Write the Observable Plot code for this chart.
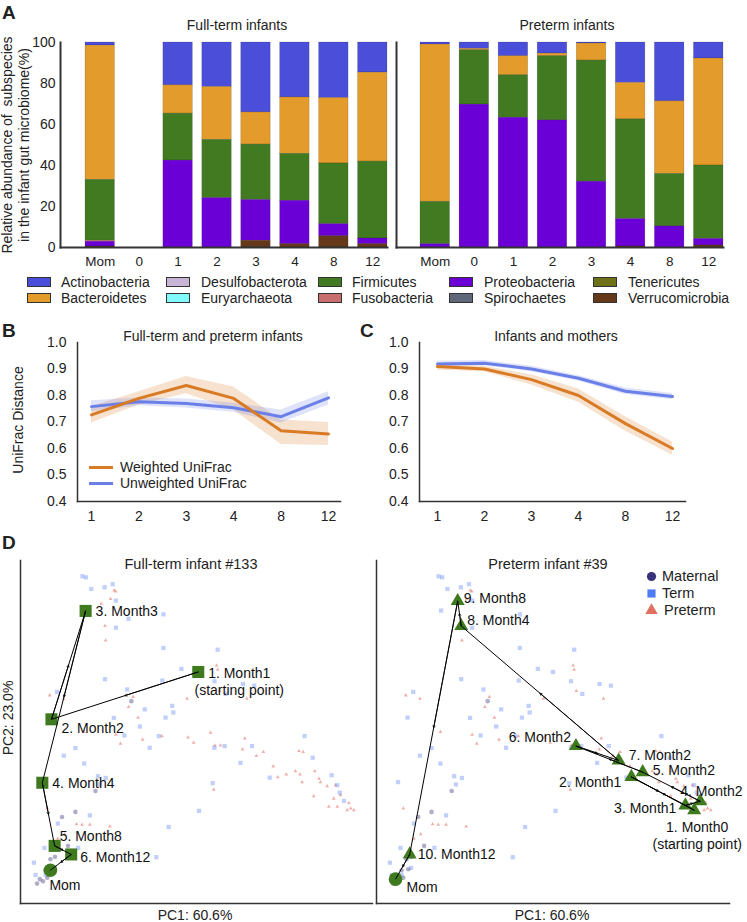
<!DOCTYPE html>
<html><head><meta charset="utf-8">
<script src="https://cdn.jsdelivr.net/npm/d3@7"></script>
<script src="https://cdn.jsdelivr.net/npm/@observablehq/plot@0.6"></script>
<style>
body{margin:0;background:#fff;}
#fig{position:relative;width:747px;height:922px;font-family:"Liberation Sans",Arial,Helvetica,sans-serif;color:#222;overflow:hidden;background:#fff}
.abs{position:absolute;white-space:pre;line-height:1.15}
#fig svg{position:absolute;overflow:visible}
</style></head><body><div id="fig"></div>
<script>
// ---------- DATA ----------
// Panel A
const timepoints = ["Mom","0","1","2","3","4","8","12"];
const phyla = ["Actinobacteria","Bacteroidetes","Desulfobacterota","Euryarchaeota","Firmicutes","Fusobacteria","Proteobacteria","Spirochaetes","Tenericutes","Verrucomicrobia"];
const phylumColors = ["#4a4ed8","#e39b2b","#c8b4d4","#80fafa","#427a22","#c86e6e","#6a00d6","#5f6878","#6e7118","#643818"];
const stackOrder = ["Verrucomicrobia","Tenericutes","Spirochaetes","Proteobacteria","Fusobacteria","Euryarchaeota","Desulfobacterota","Firmicutes","Bacteroidetes","Actinobacteria"];
// full-term infants (% per timepoint)
const ftActinobacteria  = [1.5, 0, 20.9, 21.7, 34.1, 26.8, 27.1, 14.7];
const ftBacteroidetes   = [65.5, 0, 13.8, 25.8, 15.7, 27.5, 31.9, 43.4];
const ftFirmicutes      = [29.7, 0, 22.9, 28.4, 27.0, 22.9, 29.6, 37.5];
const ftFusobacteria    = [0.5, 0, 0, 0, 0, 0, 0, 0];
const ftProteobacteria  = [2.3, 0, 42.4, 24.1, 19.9, 21.2, 5.9, 2.8];
const ftVerrucomicrobia = [0.5, 0, 0, 0, 3.3, 1.6, 5.5, 1.6];
// preterm infants
const ptActinobacteria  = [1.0, 3.1, 6.7, 5.4, 0.5, 19.7, 28.7, 7.8];
const ptBacteroidetes   = [76.7, 0.7, 9.3, 1.3, 8.3, 17.8, 35.4, 52.2];
const ptFirmicutes      = [20.7, 26.5, 20.7, 31.3, 59.1, 48.6, 25.6, 35.8];
const ptFusobacteria    = [0, 0, 0, 0, 0, 0, 0, 0];
const ptProteobacteria  = [1.6, 69.7, 63.3, 62.0, 32.1, 13.4, 10.3, 3.2];
const ptVerrucomicrobia = [0, 0, 0, 0, 0, 0.5, 0, 1.0];

// Panels B & C
const months = ["1","2","3","4","8","12"];
const yTicksBC = [0.4,0.5,0.6,0.7,0.8,0.9,1.0];
const bWeighted   = [0.727,0.789,0.838,0.789,0.667,0.655];
const bWeightedLo = [0.696,0.764,0.807,0.745,0.615,0.611];
const bWeightedHi = [0.758,0.814,0.872,0.832,0.708,0.698];
const bUnweighted   = [0.758,0.776,0.770,0.754,0.720,0.791];
const bUnweightedLo = [0.739,0.761,0.753,0.737,0.696,0.764];
const bUnweightedHi = [0.780,0.791,0.787,0.771,0.745,0.814];
const cWeighted   = [0.909,0.900,0.860,0.800,0.694,0.600];
const cWeightedLo = [0.895,0.890,0.840,0.775,0.665,0.575];
const cWeightedHi = [0.920,0.910,0.878,0.825,0.720,0.625];
const cUnweighted   = [0.919,0.922,0.900,0.865,0.816,0.796];
const cUnweightedLo = [0.909,0.912,0.890,0.855,0.804,0.784];
const cUnweightedHi = [0.929,0.932,0.910,0.875,0.828,0.808];

// Panel D (PC1/PC2 scores, relative units)
const termPC1 = [17.6,18.6,20.1,23.9,26.2,27.1,40.6,30.7,27.1,40.6,56.0,45.7,24.0,40.3,30.3,58.3,43.1,43.4,41.2,26.5,33.9,29.5,39.3,36.7,15.6,12.3,18.1,55.1,58.0,65.8,80.7,83.0,62.5,70.8,54.6,88.4,90.0,90.7,91.9,22.0,50.7,42.1,19.7,38.6,16.4,6.8,3.8,4.3,7.1,9.8,10.4,8.8,6.1,10.6,18.3,24.2,22.5,63.2,66.4,55.1,50.0,35.3];
const termPC2 = [95.4,95.1,91.7,92.2,93.1,88.3,84.3,83.0,80.4,74.5,74.0,68.4,65.4,65.0,62.4,61.1,57.6,55.7,54.2,54.1,51.6,49.0,48.8,45.4,45.3,43.1,40.8,45.4,45.9,45.9,48.8,42.5,41.0,36.7,35.1,37.4,34.5,32.3,29.9,37.1,27.0,22.3,25.7,13.5,16.2,16.2,11.9,8.3,8.4,10.4,61.7,54.2,35.4,23.3,85.4,36.6,34.7,64.0,63.5,64.8,67.5,56.6];
const pretermPC1 = [27.0,25.6,22.9,24.0,24.2,55.7,47.3,32.0,30.7,33.4,8.3,12.3,27.1,40.2,34.7,47.6,54.0,49.2,55.2,56.8,63.1,63.7,67.0,69.0,71.8,73.1,75.5,78.1,79.4,80.0,79.1,80.3,83.6,85.2,87.1,84.8,89.5,90.9,89.0,90.0,93.3,93.8,94.7,92.8,87.6,83.3,54.9,28.4,17.5,19.7,15.9,7.6,10.6,56.0,56.6,64.3,18.1,12.5,25.4,26.6];
const pretermPC2 = [91.0,88.8,87.4,80.9,76.7,69.4,59.7,60.2,57.3,54.2,60.7,59.7,49.2,48.8,47.8,48.4,49.8,46.9,46.1,46.1,44.9,48.1,43.0,44.2,40.0,36.8,37.6,38.6,37.6,35.4,44.5,44.2,38.6,35.4,34.2,36.4,34.5,31.6,30.6,28.2,29.3,27.7,27.2,27.2,28.2,31.3,33.2,46.6,23.0,23.0,23.1,27.7,18.9,68.2,62.0,59.7,50.0,20.2,22.5,91.3];
const maternalPC1 = [31.5,21.3,15.6,11.8,13.5,9.8,8.5,7.1,5.5,4.7,6.4,7.6,9.0];
const maternalPC2 = [59.0,32.8,26.7,25.2,16.8,13.6,12.9,9.7,7.1,5.8,6.5,7.5,10.0];
// trajectories
const ftLabels = ["1. Month1\n(starting point)","2. Month2","3. Month3","4. Month4","5. Month8","6. Month12"];
const ftPC1 = [50.5, 8.8, 18.5, 6.2, 9.7, 14.4];
const ftPC2 = [67.5, 53.7, 85.3, 35.2, 16.8, 14.3];
const ftMom = [8.5, 9.7];
const ptLabels = ["1. Month0\n(starting point)","2. Month1","3. Month1","4. Month2","5. Month2","6. Month2","7. Month2","8. Month4","9. Month8","10. Month12"];
const ptPC1 = [90.0, 72.2, 87.5, 91.7, 75.4, 56.5, 68.6, 24.0, 23.0, 9.4];
const ptPC2 = [27.2, 36.9, 28.6, 29.8, 38.3, 45.9, 41.7, 80.9, 88.2, 14.3];
const ptMom = [5.4, 7.1];
const groupNames = ["Maternal","Term","Preterm"];
const groupColors = ["#3a3278","#4d7cf5","#e07060"];

// ---------- HELPERS ----------
const fig = document.getElementById("fig");
const FONT = '"Liberation Sans", Arial, Helvetica, sans-serif';
function txt(s, x, y, o = {}) {
  const d = document.createElement("div");
  d.className = "abs";
  d.textContent = s;
  d.style.left = x + "px"; d.style.top = y + "px";
  d.style.fontSize = (o.size || 13) + "px";
  if (o.weight) d.style.fontWeight = o.weight;
  if (o.lh) d.style.lineHeight = o.lh + "px";
  d.style.textAlign = "center";
  const a = o.anchor || "middle";
  const tx = a === "middle" ? "-50%" : a === "end" ? "-100%" : "0";
  d.style.transform = `translate(${tx},-50%)` + (o.rotate ? ` rotate(${o.rotate}deg)` : "");
  fig.appendChild(d);
  return d;
}
function place(el, left, top) {
  el.style.position = "absolute"; el.style.left = left + "px"; el.style.top = top + "px";
  fig.appendChild(el);
}
const baseStyle = {fontFamily: FONT, fontSize: "13px", color: "#222", background: "transparent", overflow: "visible"};

// ---------- PANEL A ----------
function barRows(arrs) {
  const rows = [];
  const map = {Actinobacteria: arrs[0], Bacteroidetes: arrs[1], Firmicutes: arrs[2], Fusobacteria: arrs[3], Proteobacteria: arrs[4], Verrucomicrobia: arrs[5]};
  for (const [ph, vals] of Object.entries(map)) vals.forEach((v, i) => { if (v > 0) rows.push({time: timepoints[i], phylum: ph, value: v}); });
  return rows;
}
function barPanel(rows, left, width, insetLeft, showY) {
  const p = Plot.plot({
    width, height: 245, marginLeft: 60, marginRight: 0, marginTop: 10, marginBottom: 30,
    style: baseStyle,
    x: {domain: timepoints, paddingInner: 0.244, paddingOuter: 0, insetLeft, round: false, label: null},
    y: {domain: [0, 100], label: null, axis: null},
    color: {domain: phyla, range: phylumColors},
    marks: [
      Plot.barY(rows, {x: "time", y: "value", fill: "phylum", order: stackOrder, stroke: "#000", strokeOpacity: 0.22, strokeWidth: 0.6}),
      showY ? Plot.axisY({ticks: [0,20,40,60,80,100], tickSize: 0, tickPadding: 5, fontSize: 14, label: null}) : null,
      Plot.axisX({tickSize: 0, tickPadding: 9, fontSize: 13.5, label: null}),
      Plot.frame({anchor: "left", stroke: "#333", strokeWidth: 2}),
      Plot.frame({anchor: "bottom", stroke: "#333", strokeWidth: 2})
    ]
  });
  place(p, left, 32);
}
barPanel(barRows([ftActinobacteria, ftBacteroidetes, ftFirmicutes, ftFusobacteria, ftProteobacteria, ftVerrucomicrobia]), 0, 387, 25, true);
barPanel(barRows([ptActinobacteria, ptBacteroidetes, ptFirmicutes, ptFusobacteria, ptProteobacteria, ptVerrucomicrobia]), 336, 387, 24, false);

txt("A", 2, 13, {size: 19, weight: "bold", anchor: "start"});
txt("Full-term infants", 237, 25, {size: 14});
txt("Preterm infants", 567, 25, {size: 14});
txt("Relative abundance of  subspecies\nin the infant gut microbiome(%)", 16, 145, {size: 14, rotate: -90, lh: 17});

// legend A (column-major)
const legSwX = [27, 166, 318, 449, 593];
const legTxX = [61, 201, 352, 484, 628];
const legY = [282, 298];
phyla.forEach((ph, i) => {
  const col = Math.floor(i / 2), row = i % 2;
  const sw = document.createElement("div");
  sw.style.cssText = `position:absolute;left:${legSwX[col]}px;top:${legY[row]-5}px;width:22px;height:8px;background:${phylumColors[i]};border:1px solid #333;`;
  fig.appendChild(sw);
  txt(ph, legTxX[col], legY[row], {size: 14, anchor: "start"});
});

// ---------- PANELS B & C ----------
const ORANGE = "#d97b24", BLUE = "#6a7fe8";
function lineRows(v, lo, hi) { return months.map((m, i) => ({m, v: v[i], lo: lo[i], hi: hi[i]})); }
function linePanel(rw, ru, left, width, insetLeft, insetRight) {
  const p = Plot.plot({
    width, height: 196, marginLeft: 77, marginRight: 0, marginTop: 12, marginBottom: 25,
    style: baseStyle,
    x: {type: "point", domain: months, padding: 0, insetLeft, insetRight, round: false, label: null},
    y: {domain: [0.4, 1.0], label: null},
    marks: [
      Plot.areaY(rw, {x: "m", y1: "lo", y2: "hi", fill: ORANGE, fillOpacity: 0.22}),
      Plot.areaY(ru, {x: "m", y1: "lo", y2: "hi", fill: BLUE, fillOpacity: 0.22}),
      Plot.lineY(ru, {x: "m", y: "v", stroke: BLUE, strokeWidth: 3}),
      Plot.lineY(rw, {x: "m", y: "v", stroke: ORANGE, strokeWidth: 3}),
      Plot.axisY({ticks: yTicksBC, tickFormat: d3.format(".1f"), tickSize: 0, tickPadding: 11, fontSize: 14, label: null}),
      Plot.axisX({tickSize: 0, tickPadding: 10, fontSize: 14, label: null}),
      Plot.frame({anchor: "left", stroke: "#333", strokeWidth: 1.5}),
      Plot.frame({anchor: "bottom", stroke: "#333", strokeWidth: 1.5})
    ]
  });
  place(p, left, 330);
}
linePanel(lineRows(bWeighted, bWeightedLo, bWeightedHi), lineRows(bUnweighted, bUnweightedLo, bUnweightedHi), 0, 340, 14, 12);
linePanel(lineRows(cWeighted, cWeightedLo, cWeightedHi), lineRows(cUnweighted, cUnweightedLo, cUnweightedHi), 342, 343, 18, 13);

txt("B", 2, 331, {size: 19, weight: "bold", anchor: "start"});
txt("C", 360, 331, {size: 19, weight: "bold", anchor: "start"});
txt("Full-term and preterm infants", 213, 336, {size: 14});
txt("Infants and mothers", 556, 336, {size: 14});
txt("UniFrac Distance", 18, 420, {size: 14, rotate: -90});
[["Weighted UniFrac", ORANGE, 467], ["Unweighted UniFrac", BLUE, 483]].forEach(([t, c, y]) => {
  const l = document.createElement("div");
  l.style.cssText = `position:absolute;left:89px;top:${y-1.5}px;width:24px;height:3px;background:${c};`;
  fig.appendChild(l);
  txt(t, 120, y, {size: 14, anchor: "start"});
});

// ---------- PANEL D ----------
const GREEN = "#3f7a1f";
const termRows = termPC1.map((x, i) => ({x, y: termPC2[i]}));
const pretermRows = pretermPC1.map((x, i) => ({x, y: pretermPC2[i]}));
const maternalRows = maternalPC1.map((x, i) => ({x, y: maternalPC2[i]}));
function pcaPanel(labels, xs, ys, mom, symbol, r, offsets, momOffset, left, width) {
  const traj = labels.map((label, i) => ({label, x: xs[i], y: ys[i]}));
  const path = [...traj, {label: "Mom", x: mom[0], y: mom[1]}];
  const segs = d3.pairs(path).map(([a, b]) => ({x1: a.x, y1: a.y, x2: b.x, y2: b.y, xm: (a.x + b.x) / 2, ym: (a.y + b.y) / 2}));
  const labelMarks = path.map((d, i) => {
    const o = i < offsets.length ? offsets[i] : momOffset;
    return Plot.text([d], {x: "x", y: "y", text: "label", dx: o[0], dy: o[1], textAnchor: o[2], fontSize: 14, lineHeight: 1.2, fill: "#111"});
  });
  const p = Plot.plot({
    width, height: 375, marginLeft: 20, marginRight: 0, marginTop: 12, marginBottom: 20,
    style: baseStyle,
    x: {domain: [0, 100], axis: null},
    y: {domain: [0, 100], axis: null},
    marks: [
      Plot.dot(pretermRows, {x: "x", y: "y", symbol: "triangle", r: 1.4, fill: groupColors[2], fillOpacity: 0.55}),
      Plot.dot(termRows, {x: "x", y: "y", symbol: "square", r: 2.4, fill: "#5b84f5", fillOpacity: 0.38}),
      Plot.dot(maternalRows, {x: "x", y: "y", r: 2.3, fill: groupColors[0], fillOpacity: 0.4}),
      Plot.dot(traj, {x: "x", y: "y", symbol, r, fill: GREEN}),
      Plot.dot([path[path.length - 1]], {x: "x", y: "y", r: 6.8, fill: GREEN}),
      Plot.link(segs, {x1: "x1", y1: "y1", x2: "x2", y2: "y2", stroke: "#000", strokeWidth: 1}),
      Plot.arrow(segs, {x1: "x1", y1: "y1", x2: "xm", y2: "ym", stroke: "#000", strokeWidth: 0.8, headLength: 4}),
      ...labelMarks,
      Plot.frame({anchor: "left", stroke: "#333", strokeWidth: 1.5}),
      Plot.frame({anchor: "bottom", stroke: "#333", strokeWidth: 1.5})
    ]
  });
  place(p, left, 548);
}
pcaPanel(ftLabels, ftPC1, ftPC2, ftMom, "square", 6.8,
  [[41, 9, "middle"], [10, 8, "start"], [10, 0, "start"], [10, 0, "start"], [5, -10, "start"], [9, 2, "start"]],
  [-1, 14, "start"], 0, 372);
pcaPanel(ptLabels, ptPC1, ptPC2, ptMom, "triangle", 5.2,
  [[3, 25, "middle"], [-10, 5, "end"], [-9, 2, "end"], [-20, -11, "start"], [10, -3, "start"], [-5, -9, "end"], [10, -6, "start"], [6, -6, "start"], [6, -3, "start"], [8, -1, "start"]],
  [11, 7, "start"], 356, 373);

txt("D", 2, 543, {size: 19, weight: "bold", anchor: "start"});
txt("Full-term infant #133", 191, 564, {size: 14.5});
txt("Preterm infant #39", 548, 564, {size: 14.5});
txt("PC1: 60.6%", 195, 915, {size: 14});
txt("PC1: 60.6%", 552, 915, {size: 14});
txt("PC2: 23.0%", 8, 718, {size: 14, rotate: -90});

// legend D
const legD = Plot.plot({
  width: 20, height: 44, margin: 5, style: baseStyle,
  x: {domain: [0, 1], axis: null}, y: {domain: groupNames, axis: null, type: "point", padding: 0},
  marks: [
    Plot.dot(groupNames, {x: () => 0.5, y: d => d, symbol: ["circle","square","triangle"], fill: groupColors, r: 4.6})
  ]
});
place(legD, 641, 571);
txt("Maternal", 662, 576, {size: 14.5, anchor: "start"});
txt("Term", 662, 593, {size: 14.5, anchor: "start"});
txt("Preterm", 664, 610, {size: 14.5, anchor: "start"});
</script></body></html>
